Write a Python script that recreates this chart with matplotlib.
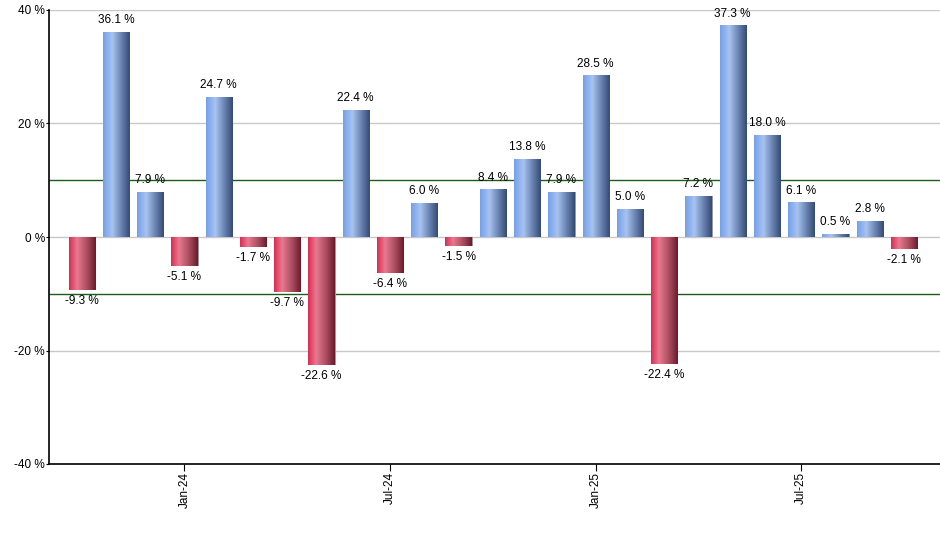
import numpy as np
import matplotlib
matplotlib.use("Agg")
import matplotlib.pyplot as plt
from matplotlib.colors import LinearSegmentedColormap

plt.rcParams['font.family'] = ['Liberation Sans', 'DejaVu Sans']

# monthly returns, Oct-23 .. Oct-25
months = ['Oct-23', 'Nov-23', 'Dec-23', 'Jan-24', 'Feb-24', 'Mar-24', 'Apr-24',
          'May-24', 'Jun-24', 'Jul-24', 'Aug-24', 'Sep-24', 'Oct-24', 'Nov-24',
          'Dec-24', 'Jan-25', 'Feb-25', 'Mar-25', 'Apr-25', 'May-25', 'Jun-25',
          'Jul-25', 'Aug-25', 'Sep-25', 'Oct-25']
returns = [-9.3, 36.1, 7.9, -5.1, 24.7, -1.7, -9.7, -22.6, 22.4, -6.4, 6.0, -1.5,
           8.4, 13.8, 7.9, 28.5, 5.0, -22.4, 7.2, 37.3, 18.0, 6.1, 0.5, 2.8, -2.1]
tick_months = ['Jan-24', 'Jul-24', 'Jan-25', 'Jul-25']
y_ticks = [-40, -20, 0, 20, 40]

blue_cmap = LinearSegmentedColormap.from_list(
    'blue_grad', [(0, '#73a0ea'), (0.35, '#a9c3f0'), (0.7, '#6680b0'), (1, '#354a70')])
red_cmap = LinearSegmentedColormap.from_list(
    'red_grad', [(0, '#dc2a52'), (0.3, '#e77a90'), (0.7, '#a44a5c'), (1, '#6a1a2a')])

fig = plt.figure(figsize=(9.4, 5.5), dpi=100)
ax = fig.add_axes([49 / 940, 86 / 550, 891 / 940, 454 / 550])

x = np.arange(len(months))
width = 0.76

# grid lines
for y in [-20, 0, 20, 40]:
    ax.axhline(y, color='#c8c8c8', lw=1, zorder=0)
for y in [-10, 10]:
    ax.axhline(y, color='#1a5e1a', lw=1, zorder=1)

# shadow
ax.bar(x + 0.035, returns, width=width, color='#9a9a9a', zorder=2)
bars = ax.bar(x, returns, width=width, color='none', zorder=3)

grad = np.linspace(0, 1, 256).reshape(1, -1)
for rect, v in zip(bars, returns):
    x0 = rect.get_x()
    x1 = x0 + rect.get_width()
    y0, y1 = sorted([0, v])
    cmap = blue_cmap if v >= 0 else red_cmap
    im = ax.imshow(grad, cmap=cmap, aspect='auto', extent=[x0, x1, y0, y1],
                   zorder=3, interpolation='bilinear')
    im.set_clip_path(rect)
    cx = rect.get_x() + rect.get_width() / 2
    if v >= 0:
        ax.text(cx, v + 1.0, f'{v:.1f} %', ha='center', va='bottom',
                fontsize=8.5, zorder=4)
    else:
        ax.text(cx, v - 0.9, f'{v:.1f} %', ha='center', va='top',
                fontsize=8.5, zorder=4)

ax.set_xlim(-0.95, 25.05)
ax.set_ylim(-40, 40)
ax.set_yticks(y_ticks)
ax.set_yticklabels([f'{t} %' for t in y_ticks], fontsize=8.5)
ax.set_xticks([months.index(m) for m in tick_months])
ax.set_xticklabels(tick_months, rotation=90, fontsize=8.5)
ax.tick_params(axis='y', length=2, pad=1)
ax.tick_params(axis='x', length=5, pad=1)

for s in ['top', 'right']:
    ax.spines[s].set_visible(False)
ax.spines['left'].set_linewidth(1.2)
ax.spines['bottom'].set_linewidth(1.2)

fig.savefig('out.png', dpi=100)
